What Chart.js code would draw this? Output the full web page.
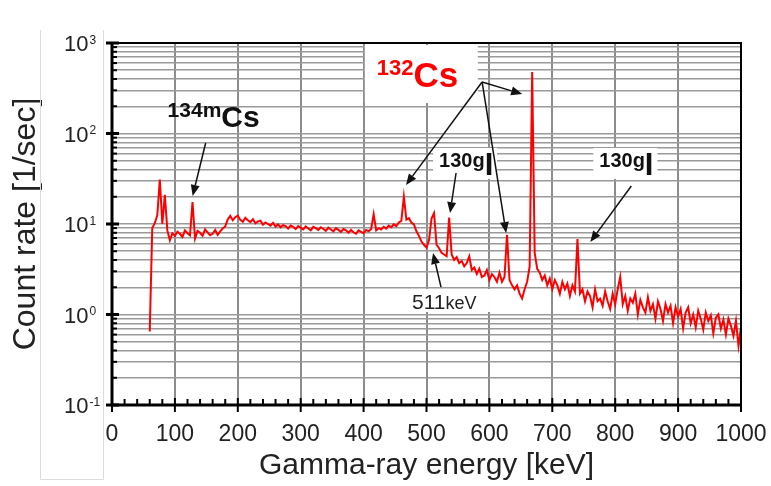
<!DOCTYPE html>
<html>
<head>
<meta charset="utf-8">
<title>Gamma-ray spectrum</title>
<script src="https://cdn.jsdelivr.net/npm/chart.js@4.4.1/dist/chart.umd.min.js"></script>
<style>
  html, body { margin: 0; padding: 0; background: #fff; }
  #wrap { width: 771px; height: 486px; }
</style>
</head>
<body>
<div id="wrap"><canvas id="spectrum" width="771" height="486"></canvas></div>
<script>
// energy calibration of the channels (keV)
const firstChannelKeV = 60;
const keVPerChannel = 4;

// count rate [1/sec] per channel, 10 channels (40 keV) per row
const countRates = [
    0.65, 9.0, 10.2, 12.5, 31, 10.0, 21, 8.5, 6.6, 7.9,        // 60 - 96
    7.4, 8.2, 7.8, 7.2, 8.5, 7.9, 7.5, 17.5, 6.9, 8.4,         // 100 - 136
    8.0, 7.4, 8.7, 8.1, 7.5, 7.8, 8.6, 7.6, 8.3, 8.9,          // 140 - 176
    9.4, 11.2, 12.3, 11.0, 11.9, 12.4, 11.1, 10.6, 11.7, 11.0, // 180 - 216
    10.5, 11.3, 10.2, 10.7, 10.9, 9.8, 10.4, 10.0, 9.6, 10.3,  // 220 - 256
    9.4, 9.9, 9.2, 9.7, 9.5, 8.9, 9.6, 9.3, 8.8, 9.5,          // 260 - 296
    9.1, 8.7, 9.4, 8.9, 8.5, 9.3, 9.0, 8.6, 9.2, 8.8,          // 300 - 336
    8.4, 9.1, 8.7, 8.3, 9.0, 8.6, 8.2, 8.8, 8.5, 8.0,          // 340 - 376
    8.6, 8.1, 7.8, 8.5, 8.2, 7.9, 8.6, 8.3, 8.8, 12.8,         // 380 - 416
    8.5, 9.0, 8.7, 9.3, 8.9, 9.6, 9.2, 9.9, 9.5, 10.4,         // 420 - 456
    10.8, 20, 11.2, 11.6, 10.4, 9.9, 8.3, 7.4, 6.4, 5.9,       // 460 - 496
    5.5, 6.6, 11.5, 13.2, 5.9, 5.4, 4.8, 4.6, 4.4, 11.8,       // 500 - 536
    4.6, 4.0, 4.3, 3.7, 3.9, 3.4, 3.7, 4.4, 3.1, 3.3,          // 540 - 576
    2.8, 3.2, 2.6, 2.7, 3.1, 2.4, 2.8, 2.6, 2.3, 2.9,          // 580 - 616
    2.3, 2.6, 7.6, 2.4, 2.1, 1.9, 2.1, 1.7, 1.5, 1.9,          // 620 - 656
    2.3, 3.4, 478, 4.8, 3.2, 2.9, 2.4, 2.7, 2.1, 2.5,          // 660 - 696
    1.9, 2.4, 2.1, 1.7, 2.3, 1.9, 2.2, 1.6, 2.1, 1.8,          // 700 - 736
    6.8, 1.7, 1.9, 1.4, 1.8, 1.6, 1.2, 1.9, 1.4, 1.5,          // 740 - 776
    1.25, 1.8, 1.4, 1.15, 1.7, 1.3, 1.9, 2.6, 1.3, 1.6,        // 780 - 816
    1.1, 1.5, 1.35, 1.7, 1.0, 1.45, 1.2, 1.05, 1.55, 1.1,      // 820 - 856
    1.3, 0.9, 1.4, 1.15, 0.85, 1.3, 1.05, 1.25, 0.8, 1.2,      // 860 - 896
    0.95, 1.15, 0.7, 1.05, 1.2, 0.8, 1.0, 0.72, 1.1, 0.9,      // 900 - 936
    0.68, 1.05, 0.85, 0.98, 0.62, 0.92, 1.0, 0.7, 0.88, 0.6,   // 940 - 976
    0.9, 0.75, 0.58, 0.85, 0.45, 0.72                          // 980 - 1000
];

const xTickValues = [0, 100, 200, 300, 400, 500, 600, 700, 800, 900, 1000];
const xMinorStep = 20;
const yDecades = [0.1, 1, 10, 100, 1000];
const yDecadeExponents = ['-1', '0', '1', '2', '3'];
const yMantissas = [1, 2, 3, 4, 5, 6, 7, 8, 9];

const FONT = "'Liberation Sans', Arial, Helvetica, sans-serif";
Chart.defaults.font.family = FONT;

const points = countRates.map((c, i) => ({ x: firstChannelKeV + i * keVPerChannel, y: c }));

const yGridValues = [];
yDecades.forEach(d => {
    yMantissas.forEach(m => {
        const v = +(d * m).toPrecision(3);
        if (v <= yDecades[yDecades.length - 1]) yGridValues.push(v);
    });
});

// annotations, anchored in data coordinates (keV, 1/sec)
const labels = [
    { at: [88.4, 118], color: '#111', parts: [{ text: '134m', size: 21, bold: true, rise: 10 }, { text: 'Cs', size: 30, bold: true }] },
    { at: [421, 326], color: '#ff0000', box: [-12, 101, -42, 16],
      parts: [{ text: '132', size: 22, bold: true, rise: 12 }, { text: 'Cs', size: 35, bold: true }] },
    { at: [520, 34.8], color: '#111', box: [-6, 58, -27, 4],
      parts: [{ text: '130g', size: 20, bold: true, rise: 8 }, { text: 'I', size: 31, bold: true }] },
    { at: [774.7, 34.8], color: '#111', box: [-6, 58, -27, 4],
      parts: [{ text: '130g', size: 20, bold: true, rise: 8 }, { text: 'I', size: 31, bold: true }] },
    { at: [476.9, 1.15], color: '#222', box: [-7, 78, -20, 3],
      parts: [{ text: '511', size: 21 }, { text: 'keV', size: 18 }] }
];
const arrows = [
    { from: [148.9, 78.5], to: [128.2, 20.4] },
    { from: [588.4, 371], to: [467.4, 27] },
    { from: [588.4, 371], to: [652.1, 273] },
    { from: [588.4, 371], to: [626.6, 7.96] },
    { from: [547, 36.6], to: [537.4, 13.2] },
    { from: [825.6, 26.3], to: [760.4, 6.32] },
    { from: [523.1, 2.01], to: [510.4, 4.78] }
];

const partFont = p => (p.bold ? 'bold ' : '') + p.size + 'px ' + FONT;

const spectrumDecor = {
    id: 'spectrumDecor',
    beforeDatasetsDraw(chart) {
        const { ctx, scales: { x, y } } = chart;
        ctx.save();
        ctx.fillStyle = '#fff';
        labels.forEach(l => {
            if (!l.box) return;
            const ax = x.getPixelForValue(l.at[0]);
            const ay = y.getPixelForValue(l.at[1]);
            ctx.fillRect(ax + l.box[0], ay + l.box[2], l.box[1] - l.box[0], l.box[3] - l.box[2]);
        });
        ctx.restore();
    },
    afterDatasetsDraw(chart) {
        const { ctx, chartArea: a, scales: { x, y } } = chart;
        ctx.save();

        // frame
        ctx.strokeStyle = '#000';
        ctx.lineWidth = 2;
        ctx.beginPath();
        ctx.moveTo(a.left, a.top); ctx.lineTo(a.right, a.top); ctx.lineTo(a.right, a.bottom);
        ctx.stroke();
        ctx.lineWidth = 3;
        ctx.beginPath();
        ctx.moveTo(a.left, a.top - 1); ctx.lineTo(a.left, a.bottom); ctx.lineTo(a.right + 1, a.bottom);
        ctx.stroke();

        // x ticks
        ctx.lineWidth = 2;
        for (let v = xTickValues[0]; v <= xTickValues[xTickValues.length - 1]; v += xMinorStep) {
            const px = x.getPixelForValue(v);
            ctx.beginPath();
            if (xTickValues.includes(v)) { ctx.moveTo(px, a.bottom - 7); ctx.lineTo(px, a.bottom + 7); }
            else { ctx.moveTo(px, a.bottom); ctx.lineTo(px, a.bottom - 6); }
            ctx.stroke();
        }
        // y ticks
        yGridValues.forEach(v => {
            const py = y.getPixelForValue(v);
            ctx.beginPath();
            if (yDecades.includes(v)) { ctx.lineWidth = 3; ctx.moveTo(a.left - 6, py); ctx.lineTo(a.left + 7, py); }
            else { ctx.lineWidth = 2; ctx.moveTo(a.left, py); ctx.lineTo(a.left + 5, py); }
            ctx.stroke();
        });

        // y tick labels with superscript exponent
        ctx.fillStyle = '#222';
        ctx.textBaseline = 'alphabetic';
        yDecades.forEach((d, i) => {
            const py = y.getPixelForValue(d);
            ctx.font = '22px ' + FONT;
            ctx.textAlign = 'right';
            ctx.fillText('10', 88.5, py + 8);
            ctx.font = '12px ' + FONT;
            ctx.textAlign = 'left';
            ctx.fillText(yDecadeExponents[i], 89.5, py + 0.5);
        });

        // arrows
        ctx.strokeStyle = '#111';
        ctx.fillStyle = '#111';
        ctx.lineWidth = 1.5;
        arrows.forEach(ar => {
            const x0 = x.getPixelForValue(ar.from[0]), y0 = y.getPixelForValue(ar.from[1]);
            const x1 = x.getPixelForValue(ar.to[0]), y1 = y.getPixelForValue(ar.to[1]);
            const ang = Math.atan2(y1 - y0, x1 - x0);
            const hl = 11, hw = 4.5;
            const bx = x1 - hl * Math.cos(ang), by = y1 - hl * Math.sin(ang);
            ctx.beginPath();
            ctx.moveTo(x0, y0); ctx.lineTo(bx, by);
            ctx.stroke();
            ctx.beginPath();
            ctx.moveTo(x1, y1);
            ctx.lineTo(bx + hw * Math.sin(ang), by - hw * Math.cos(ang));
            ctx.lineTo(bx - hw * Math.sin(ang), by + hw * Math.cos(ang));
            ctx.closePath();
            ctx.fill();
        });

        // labels
        ctx.textAlign = 'left';
        labels.forEach(l => {
            let cx = x.getPixelForValue(l.at[0]);
            const by = y.getPixelForValue(l.at[1]);
            ctx.fillStyle = l.color;
            l.parts.forEach(p => {
                ctx.font = partFont(p);
                ctx.fillText(p.text, cx, by - (p.rise || 0));
                cx += ctx.measureText(p.text).width;
            });
        });
        ctx.restore();
    },
    afterDraw(chart) {
        // faint outline of the slide box left of the axis
        const { ctx } = chart;
        ctx.save();
        ctx.strokeStyle = '#dcdcdc';
        ctx.lineWidth = 1;
        ctx.beginPath();
        ctx.moveTo(40.5, 30); ctx.lineTo(40.5, 479.5); ctx.lineTo(103.5, 479.5); ctx.lineTo(103.5, 30);
        ctx.stroke();
        ctx.restore();
    }
};

new Chart(document.getElementById('spectrum'), {
    type: 'line',
    data: {
        datasets: [{
            data: points,
            borderColor: '#ff0000',
            borderWidth: 2,
            pointRadius: 0,
            tension: 0,
            fill: false
        }]
    },
    options: {
        responsive: false,
        animation: false,
        devicePixelRatio: 1,
        layout: { padding: { top: 43, right: 30, left: 0, bottom: 0 } },
        plugins: { legend: { display: false }, tooltip: { enabled: false } },
        scales: {
            x: {
                type: 'linear',
                min: 0,
                max: 1000,
                afterBuildTicks: s => { s.ticks = xTickValues.map(v => ({ value: v })); },
                afterFit: s => { s.height = 81; s.paddingLeft = 0; s.paddingRight = 0; },
                grid: { color: '#8c8c8c', lineWidth: 2, drawTicks: false },
                border: { display: false },
                ticks: { autoSkip: false, maxRotation: 0, padding: 16, color: '#222', font: { size: 23 }, callback: v => String(v) },
                title: { display: true, text: 'Gamma-ray energy [keV]', color: '#222', font: { size: 30 }, padding: { top: 0, bottom: 2 } }
            },
            y: {
                type: 'logarithmic',
                min: 0.1,
                max: 1000,
                afterBuildTicks: s => { s.ticks = yGridValues.map(v => ({ value: v })); },
                afterFit: s => { s.width = 112; },
                grid: { color: '#9a9a9a', lineWidth: 1.5, drawTicks: false },
                border: { display: false },
                ticks: { display: false },
                title: { display: true, text: 'Count rate [1/sec]', color: '#222', font: { size: 32 }, padding: { top: 7, bottom: 0 } }
            }
        }
    },
    plugins: [spectrumDecor]
});
</script>
</body>
</html>
